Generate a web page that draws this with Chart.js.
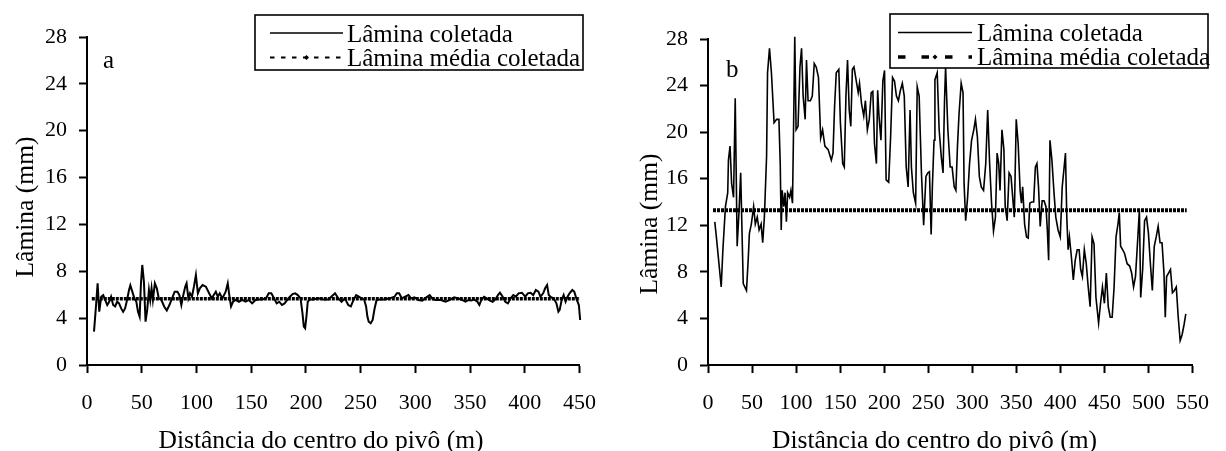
<!DOCTYPE html>
<html>
<head>
<meta charset="utf-8">
<script src="https://cdn.jsdelivr.net/npm/chart.js"></script>
<style>
  html, body { margin: 0; padding: 0; background: #fff; }
  .painel { position: absolute; top: 0; width: 613px; height: 451px; }
  #painelA { left: 0; }
  #painelB { left: 613px; }
</style>
</head>
<body>
<div class="painel" id="painelA"><canvas id="graficoA"></canvas></div>
<div class="painel" id="painelB"><canvas id="graficoB"></canvas></div>
<script>
// ---- dados ----
const distanciaA = [
    6.4, 8.2, 9.7, 11.2, 13, 14.8, 16.6, 18.5, 20.3, 22,
    23.9, 25.7, 27.5, 29.3, 31.2, 33, 34.8, 36.6, 38.4, 39.6,
    41.4, 43.3, 45.1, 46.6, 48.1, 49.3, 50.5, 52, 53.5, 55,
    56.6, 57.8, 59, 60.2, 62, 63.8, 65.6, 68, 70.5, 72.9,
    75.3, 77.7, 80.1, 82.6, 84.4, 86.2, 88, 89.8, 91, 92.6,
    94.1, 95.9, 97.7, 99.5, 101.3, 103.1, 105.6, 108.6, 111.6, 114,
    115.8, 117.7, 119.5, 121.3, 123.7, 126.7, 128.6, 130.4, 131.6, 133.4,
    135.8, 138.8, 141.8, 144.9, 147.9, 150.9, 153.9, 156.9, 159.9, 163.6,
    166, 168.4, 170.9, 173.3, 175.7, 178.1, 180.5, 183, 185.4, 187.8,
    190.2, 192.6, 195.1, 196.9, 198.1, 199.3, 200.5, 201.7, 203.6, 206.9,
    211.4, 216, 220.5, 226.6, 229.6, 232.6, 235.6, 238.7, 241.1, 243.5,
    245.9, 248.4, 250.8, 253.2, 255, 256.2, 257.4, 259.2, 261, 262.8,
    264.6, 267.7, 271.9, 276.4, 281, 283.1, 285.2, 287.7, 290.7, 293.7,
    296.1, 299.2, 302.8, 306.4, 310, 313.1, 316.1, 319.1, 323.4, 327.6,
    330, 332.4, 335.5, 339.1, 342.7, 345.8, 348.8, 351.2, 353.7, 356.7,
    358.5, 360.3, 362.8, 365.2, 368.2, 370.7, 373.1, 375.5, 377.3, 379.8,
    382.2, 384.6, 387.1, 389.5, 391.9, 394.3, 397.4, 400.4, 402.8, 405.3,
    407.7, 410.1, 412.5, 414.3, 416.8, 418.6, 420.4, 421.9, 424, 426.4,
    428.9, 430.7, 431.9, 433.7, 435.5, 437.3, 439.1, 440.9, 443.4, 445.2,
    447.6, 449.4, 450.6
];
const laminaA = [
    2.85, 5.0, 6.97, 4.55, 5.83, 5.97, 5.55, 5.12, 5.4, 5.83,
    5.12, 5.0, 5.4, 5.26, 4.83, 4.55, 4.83, 5.55, 6.4, 6.8,
    6.26, 5.69, 5.4, 4.55, 4.13, 6.97, 8.54, 7.12, 3.7, 4.7,
    6.4, 5.55, 6.55, 5.55, 6.97, 6.55, 5.69, 5.55, 5.0, 4.65,
    5.12, 5.69, 6.26, 6.26, 5.97, 5.12, 5.97, 6.69, 6.97, 5.69,
    6.12, 5.83, 6.69, 7.68, 6.12, 6.55, 6.83, 6.69, 6.12, 5.69,
    5.97, 6.26, 5.83, 6.12, 5.69, 6.26, 6.97, 5.69, 5.0, 5.4,
    5.55, 5.4, 5.55, 5.4, 5.55, 5.26, 5.55, 5.6, 5.6, 5.69,
    6.12, 6.12, 5.69, 5.26, 5.4, 5.12, 5.26, 5.55, 5.83, 6.05,
    6.12, 5.97, 5.69, 4.41, 3.27, 3.13, 4.13, 5.4, 5.6, 5.6,
    5.69, 5.6, 5.6, 6.12, 5.69, 5.4, 5.69, 5.12, 5.0, 5.55,
    5.97, 5.83, 5.69, 5.6, 5.0, 4.13, 3.7, 3.56, 3.84, 4.83,
    5.55, 5.6, 5.6, 5.69, 5.83, 6.12, 6.12, 5.69, 5.83, 5.97,
    5.69, 5.78, 5.55, 5.5, 5.78, 5.97, 5.6, 5.55, 5.55, 5.4,
    5.5, 5.6, 5.78, 5.69, 5.55, 5.4, 5.55, 5.5, 5.6, 5.4,
    5.12, 5.55, 5.83, 5.69, 5.5, 5.4, 5.6, 5.97, 6.17, 5.83,
    5.4, 5.26, 5.69, 5.97, 5.83, 6.12, 6.17, 5.83, 6.12, 6.17,
    5.97, 6.4, 6.26, 5.83, 6.12, 6.55, 6.83, 5.97, 5.78, 5.69,
    5.26, 4.55, 4.7, 5.55, 5.97, 5.4, 5.83, 6.12, 6.4, 6.26,
    5.55, 5.12, 3.84
];
const mediaA = 5.65;

const distanciaB = [
    7.7, 9.5, 15, 16.9, 19.8, 22.4, 23.2, 25, 26.8, 29,
    30.9, 33.1, 35.3, 37.1, 39, 40, 43.7, 45.6, 47, 49.2,
    51.8, 53.7, 55.9, 58, 60.3, 62.1, 64, 66.5, 67.6, 69.8,
    72, 75, 77.9, 80.5, 82, 83.1, 84.2, 86, 87.5, 89,
    90.4, 92.6, 94.1, 95.9, 97, 98.5, 100, 102.2, 104.4, 106.2,
    108, 110.3, 111.8, 113.6, 116.2, 118.4, 120.6, 122.8, 125.4, 127.9,
    130.1, 132.7, 136.4, 140, 141.9, 143.7, 145.6, 148.5, 150.3, 152.9,
    154.7, 156.6, 158.4, 160.3, 162.1, 163.9, 165.7, 168.3, 170.5, 172,
    174.2, 176.8, 178.7, 180.9, 183.1, 185.3, 187.1, 189, 191.2, 192.6,
    194.1, 196.3, 198.5, 200.4, 202.2, 205.1, 207.3, 209.5, 211.7, 213.9,
    216.1, 218.4, 220.6, 222.8, 225, 227.2, 229.4, 230.9, 233.1, 235.7,
    237.5, 239.7, 242.3, 244.8, 247.4, 249.6, 251.4, 253.3, 254.7, 256.6,
    257.6, 260.2, 262.4, 264.8, 266.8, 268.5, 269.7, 272.3, 274.9, 277.1,
    279.5, 281.4, 283.2, 285, 287.4, 289.5, 290.7, 292.5, 294.7, 296.9,
    299.2, 301.7, 303.6, 305.8, 308, 310.2, 312.8, 315.3, 317.5, 319.7,
    321.9, 324.1, 326.3, 328.2, 330, 331.5, 333.7, 335.9, 337.4, 339.6,
    341.8, 344, 345.9, 347.7, 349.9, 352.1, 354.3, 355.8, 357.2, 359.4,
    361.6, 363.5, 365.3, 367.5, 369.7, 371.6, 373.4, 375.2, 377.1, 379.3,
    381.5, 383.7, 385.2, 386.7, 388.2, 390.4, 392.6, 394.8, 397.4, 399.9,
    402.1, 404.3, 405.8, 407.3, 408.8, 410.3, 412.5, 414.7, 416.9, 419.1,
    421.3, 423.1, 425, 427.2, 429.4, 431.6, 433.8, 436, 438.2, 440.4,
    443.4, 445.6, 447.8, 450, 452.2, 454.4, 456.6, 458.8, 461, 463.2,
    465.4, 466.9, 468.4, 470.6, 472.8, 475.8, 478.7, 480.9, 483.1, 485.3,
    487.5, 489.7, 491.2, 493.4, 495.6, 497.8, 500, 502.2, 504.4, 506.6,
    508.8, 511, 513.2, 515.4, 517.6, 519.1, 520.6, 522.8, 525, 527.2,
    529.4, 531.6, 533.8, 536, 538.2, 540.5, 542.4
];
const laminaB = [
    12.3, 11.0, 6.7, 9.9, 13.6, 14.8, 17.6, 18.8, 15.6, 14.4,
    22.9, 10.2, 13.3, 16.5, 10.2, 7.0, 6.4, 9.0, 11.3, 12.1,
    13.6, 12.1, 12.7, 11.6, 12.1, 10.5, 12.7, 17.9, 25.1, 27.2,
    25.1, 20.8, 21.1, 21.1, 17.3, 11.6, 15.0, 13.6, 14.8, 12.3,
    14.8, 14.4, 15.0, 13.9, 19.6, 28.2, 20.2, 20.5, 25.6, 27.2,
    23.1, 21.1, 26.2, 22.7, 22.7, 23.1, 25.9, 25.6, 24.7, 19.5,
    20.2, 18.8, 18.5, 17.6, 18.2, 22.2, 25.1, 25.4, 20.8, 17.3,
    17.0, 23.1, 26.2, 21.9, 20.5, 25.4, 25.6, 24.4, 23.4, 24.2,
    22.5, 21.4, 22.7, 20.2, 21.1, 23.4, 23.5, 19.0, 17.3, 23.6,
    21.4, 19.3, 24.4, 25.3, 15.9, 15.7, 19.6, 24.7, 24.4, 23.1,
    22.7, 23.6, 24.2, 23.1, 17.0, 15.3, 21.9, 17.0, 14.8, 13.9,
    23.9, 23.1, 16.5, 12.0, 16.2, 16.5, 16.6, 11.2, 15.3, 19.3,
    24.5, 25.1, 20.2, 17.9, 16.5, 22.7, 25.6, 20.2, 17.0, 17.0,
    15.3, 15.0, 18.8, 21.6, 24.2, 23.4, 15.6, 12.4, 14.4, 17.3,
    19.3, 20.2, 21.1, 19.6, 16.2, 15.3, 15.0, 17.3, 21.9, 17.3,
    13.9, 11.5, 12.7, 18.2, 17.3, 15.0, 20.2, 18.5, 13.6, 12.4,
    16.5, 16.2, 14.4, 12.7, 21.1, 19.0, 15.0, 13.9, 15.3, 12.1,
    11.0, 10.9, 13.9, 14.0, 14.0, 17.0, 17.3, 15.3, 11.9, 14.1,
    14.1, 13.6, 11.6, 9.0, 19.3, 17.6, 15.0, 12.7, 11.6, 11.0,
    15.3, 17.0, 18.2, 12.7, 9.9, 11.0, 9.3, 7.3, 9.0, 9.9,
    9.9, 8.2, 7.6, 9.9, 8.7, 6.7, 5.0, 11.0, 10.4, 5.8,
    3.6, 5.3, 6.7, 5.3, 7.9, 5.0, 4.1, 4.1, 6.7, 11.0,
    12.1, 13.1, 10.2, 9.9, 9.6, 8.7, 8.5, 7.9, 6.7, 7.6,
    10.4, 13.3, 5.8, 8.2, 12.4, 12.7, 11.3, 8.7, 6.4, 10.2,
    11.0, 11.9, 10.5, 10.5, 7.9, 4.1, 7.6, 7.9, 8.2, 6.2,
    6.4, 6.7, 4.1, 2.1, 2.6, 3.5, 4.4
];
const mediaB = 13.3;

const ticksY = [0, 4, 8, 12, 16, 20, 24, 28];
const ticksXA = [0, 50, 100, 150, 200, 250, 300, 350, 400, 450];
const ticksXB = [0, 50, 100, 150, 200, 250, 300, 350, 400, 450, 500, 550];

const tituloX = "Distância do centro do pivô (m)";
const tituloY = "Lâmina (mm)";
const nomeSerie = "Lâmina coletada";
const nomeMedia = "Lâmina média coletada";

const fonte = "'Liberation Serif', 'Times New Roman', serif";

// legenda, títulos e letra do painel
const textosPlugin = {
    id: "textos",
    afterDatasetsDraw(chart, args, o) {
        const ctx = chart.ctx;
        const L = o.legenda;
        ctx.save();
        ctx.fillStyle = "#fff";
        ctx.fillRect(L.x0, L.y0, L.x1 - L.x0, L.y1 - L.y0);
        ctx.strokeStyle = "#000";
        ctx.lineWidth = 1.6;
        ctx.strokeRect(L.x0, L.y0, L.x1 - L.x0, L.y1 - L.y0);

        // linha cheia
        ctx.lineWidth = 1.6;
        ctx.setLineDash([]);
        ctx.beginPath();
        ctx.moveTo(L.amostra[0], L.linha1);
        ctx.lineTo(L.amostra[1], L.linha1);
        ctx.stroke();

        // linha da média
        ctx.lineWidth = L.mediaLargura;
        ctx.setLineDash(L.mediaTraco);
        ctx.beginPath();
        ctx.moveTo(L.amostra[0], L.linha2);
        ctx.lineTo(L.amostra[1], L.linha2);
        ctx.stroke();
        ctx.setLineDash([]);
        const cx = (L.amostra[0] + L.amostra[1]) / 2;
        ctx.fillStyle = "#000";
        ctx.beginPath();
        ctx.moveTo(cx, L.linha2 - 2.5);
        ctx.lineTo(cx + 2.5, L.linha2);
        ctx.lineTo(cx, L.linha2 + 2.5);
        ctx.lineTo(cx - 2.5, L.linha2);
        ctx.closePath();
        ctx.fill();

        ctx.font = "25px " + fonte;
        ctx.textAlign = "left";
        ctx.textBaseline = "alphabetic";
        ctx.fillText(chart.data.datasets[0].label, L.texto, L.base1);
        ctx.fillText(chart.data.datasets[1].label, L.texto, L.base2);
        ctx.restore();
    },
    afterDraw(chart, args, o) {
        const ctx = chart.ctx;
        ctx.save();
        ctx.fillStyle = "#000";
        ctx.textBaseline = "alphabetic";
        ctx.font = "25.5px " + fonte;
        ctx.textAlign = "center";
        ctx.fillText(tituloX, o.tituloX[0], o.tituloX[1]);

        ctx.save();
        ctx.translate(o.tituloY[0], o.tituloY[1]);
        ctx.rotate(-Math.PI / 2);
        ctx.fillText(tituloY, 0, 0);
        ctx.restore();

        ctx.font = "25px " + fonte;
        ctx.textAlign = "left";
        ctx.fillText(o.letra, o.posLetra[0], o.posLetra[1]);
        ctx.restore();
    },
};

function criarGrafico(id, dist, lamina, media, ticksX, larguraY, padTop, padRight, espessura, textos) {
    const pontos = dist.map((d, i) => ({ x: d, y: lamina[i] }));
    const linhaMedia = [
        { x: dist[0] - 2, y: media },
        { x: dist[dist.length - 1] + 1, y: media },
    ];

    const eixo = {
        grid: {
            display: true,
            drawOnChartArea: false,
            drawTicks: true,
            tickLength: 8,
            tickWidth: 2,
            tickColor: "#000",
        },
        border: { display: true, color: "#000", width: 2 },
    };

    return new Chart(document.getElementById(id), {
        type: "line",
        data: {
            datasets: [
                {
                    label: nomeSerie,
                    data: pontos,
                    borderColor: "#000",
                    borderWidth: espessura,
                    pointRadius: 0,
                    tension: 0,
                    clip: false,
                },
                {
                    label: nomeMedia,
                    data: linhaMedia,
                    borderColor: "#000",
                    borderWidth: textos.mediaPlot,
                    borderDash: [3, 1],
                    pointRadius: 0,
                    tension: 0,
                },
            ],
        },
        options: {
            responsive: true,
            maintainAspectRatio: false,
            animation: false,
            layout: {
                padding: { top: padTop, right: padRight, left: 0, bottom: 0 },
            },
            plugins: {
                legend: { display: false },
                tooltip: { enabled: false },
                textos: textos,
            },
            scales: {
                x: {
                    ...eixo,
                    type: "linear",
                    min: 0,
                    max: ticksX[ticksX.length - 1],
                    afterBuildTicks: (s) => {
                        s.ticks = ticksX.map((v) => ({ value: v }));
                    },
                    afterFit: (s) => {
                        s.height = 86;
                    },
                    ticks: {
                        autoSkip: false,
                        maxRotation: 0,
                        padding: 17,
                        color: "#000",
                        font: { family: fonte, size: 22 },
                    },
                },
                y: {
                    ...eixo,
                    min: 0,
                    max: 28,
                    afterBuildTicks: (s) => {
                        s.ticks = ticksY.map((v) => ({ value: v }));
                    },
                    afterFit: (s) => {
                        s.width = larguraY;
                    },
                    ticks: {
                        padding: 12,
                        color: "#000",
                        font: { family: fonte, size: 22 },
                    },
                },
            },
        },
        plugins: [textosPlugin],
    });
}

criarGrafico("graficoA", distanciaA, laminaA, mediaA, ticksXA, 87, 37, 30, 2, {
    tituloX: [321, 448],
    tituloY: [33, 207],
    letra: "a",
    posLetra: [103, 68],
    mediaPlot: 3.5,
    legenda: {
        x0: 255, y0: 15, x1: 583, y1: 70,
        amostra: [270, 343],
        linha1: 33, linha2: 57.5,
        texto: 347, base1: 41.5, base2: 65.5,
        mediaLargura: 1.8, mediaTraco: [4.5, 6.5],
    },
});

criarGrafico("graficoB", distanciaB, laminaB, mediaB, ticksXB, 95, 39, 19, 1.6, {
    tituloX: [321.5, 448],
    tituloY: [44, 224],
    letra: "b",
    posLetra: [113, 77],
    mediaPlot: 4,
    legenda: {
        x0: 277, y0: 14, x1: 595, y1: 68,
        amostra: [285, 359],
        linha1: 32.5, linha2: 57,
        texto: 364, base1: 41, base2: 65,
        mediaLargura: 3.5, mediaTraco: [7.5, 16],
    },
});
</script>
</body>
</html>
